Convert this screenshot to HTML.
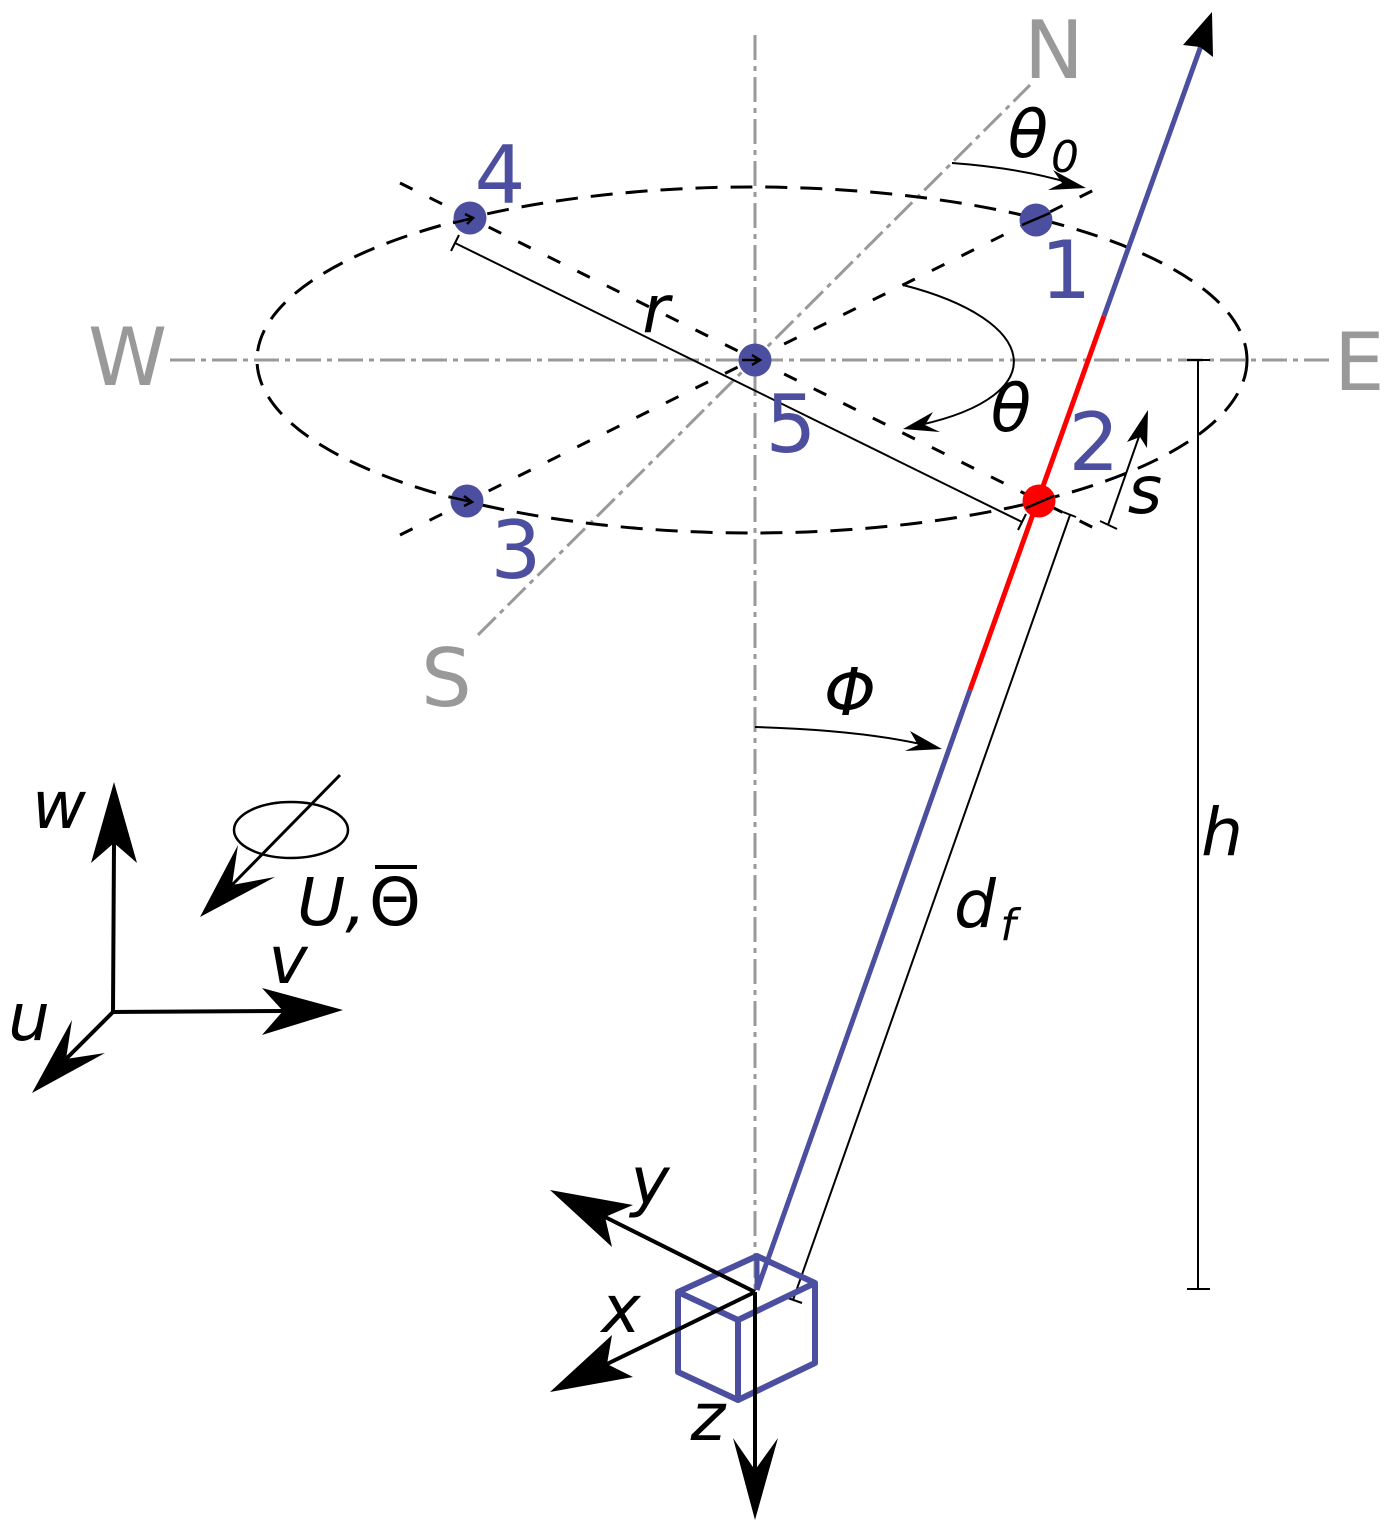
<!DOCTYPE html>
<html><head><meta charset="utf-8"><style>
html,body{margin:0;padding:0;background:#fff;}
svg{display:block;}
text{font-family:"DejaVu Sans","Liberation Sans",sans-serif;}
.it{font-style:italic;}
</style></head><body>
<svg width="1394" height="1533" viewBox="0 0 1394 1533" xmlns="http://www.w3.org/2000/svg">
<!-- gray dash-dot reference lines -->
<g stroke="#999" stroke-width="3" fill="none" stroke-dasharray="25 6 5 6">
<line x1="170" y1="360" x2="1330" y2="360"/>
<line x1="755" y1="35" x2="755" y2="1290"/>
<line x1="478" y1="635" x2="1030" y2="85"/>
</g>
<!-- dashed ellipse -->
<ellipse cx="752" cy="360" rx="495" ry="173" fill="none" stroke="#000" stroke-width="3" stroke-dasharray="22 13"/>
<!-- radial short dashes -->
<g stroke="#000" stroke-width="3" fill="none" stroke-dasharray="14 19">
<line x1="400" y1="183" x2="1100" y2="531"/>
<line x1="400" y1="535" x2="1100" y2="187"/>
</g>
<!-- r dimension -->
<g stroke="#000" stroke-width="2" fill="none">
<line x1="455" y1="243" x2="1022" y2="522"/>
<line x1="459" y1="235" x2="451" y2="251"/>
<line x1="1026" y1="514" x2="1018" y2="530"/>
<!-- s -->
<line x1="1108" y1="525" x2="1142" y2="428"/>
<line x1="1100" y1="521" x2="1117" y2="529"/>
<!-- d_f -->
<line x1="1070" y1="515" x2="793" y2="1300"/>
<line x1="1063" y1="512" x2="1076" y2="517"/>
<line x1="785" y1="1297" x2="802" y2="1303"/>
<!-- h -->
<line x1="1198" y1="360" x2="1198" y2="1289"/>
<line x1="1187" y1="360" x2="1210" y2="360"/>
<line x1="1187" y1="1289" x2="1210" y2="1289"/>
<!-- theta0 arc -->
<path d="M952,163 Q1020,168 1070,183"/>
<!-- theta arc -->
<path d="M903,285 C1040,320 1055,395 920,425"/>
<!-- phi arc -->
<path d="M755,727 Q860,730 925,745"/>
</g>
<g fill="#000">
<polygon points="1086,188 1053,170 1062,183 1048,190"/>
<polygon points="903,429 933,412 925,425 940,432"/>
<polygon points="942,749 910,731 918,745 905,751"/>
<polygon points="1148,410 1127,442 1140,437 1147,448"/>
</g>
<!-- blue/red main line -->
<line x1="757" y1="1290" x2="970" y2="690" stroke="#4c4f9f" stroke-width="5"/>
<line x1="970" y1="690" x2="1104" y2="316" stroke="#ff0000" stroke-width="5"/>
<line x1="1104" y1="316" x2="1202" y2="43" stroke="#4c4f9f" stroke-width="5"/>
<polygon points="1212,12 1183,45 1200,47 1213,57" fill="#000"/>
<!-- dots -->
<g fill="#4c4f9f">
<circle cx="470" cy="218" r="16.5"/>
<circle cx="1036" cy="220" r="16.5"/>
<circle cx="467" cy="501" r="16.5"/>
<circle cx="755" cy="360" r="16.5"/>
</g>
<circle cx="1039" cy="501" r="16.5" fill="#ff0000"/>
<!-- small markers inside dots -->
<g stroke="#000" stroke-width="2.5" fill="none">
<path d="M453,223 L473,218 M465,214 L473,218 L467,224"/>
<path d="M450,497 L472,502 M464,496 L472,502 L464,506"/>
<path d="M742,360 L760,360 M752,355 L760,360 L752,365"/>
<path d="M1022,225 L1050,213"/>
<path d="M1026,508 L1054,496"/>
</g>
<!-- cube -->
<g stroke="#4c4f9f" stroke-width="6" fill="none" stroke-linejoin="round">
<path d="M757,1256 L678,1292 L738,1320 L815,1283 Z"/>
<path d="M678,1292 L678,1372 L738,1400 L815,1363 L815,1283"/>
<path d="M738,1320 L738,1400"/>
</g>
<line x1="757" y1="1256" x2="757" y2="1290" stroke="#4c4f9f" stroke-width="5"/>
<!-- xyz axes -->
<g stroke="#000" stroke-width="4" fill="none">
<line x1="755" y1="1292" x2="605" y2="1217"/>
<line x1="755" y1="1292" x2="607" y2="1364"/>
<line x1="755" y1="1292" x2="755" y2="1470"/>
</g>
<g fill="#000">
<polygon points="550,1190 633,1205 605,1217 612,1247"/>
<polygon points="550,1392 612,1335 607,1364 633,1377"/>
<polygon points="755,1520 733,1438 755,1470 778,1438"/>
</g>
<!-- uvw axes -->
<g stroke="#000" stroke-width="4" fill="none">
<line x1="113" y1="1012" x2="114" y2="843"/>
<line x1="113" y1="1012" x2="283" y2="1011"/>
<line x1="113" y1="1012" x2="66" y2="1059"/>
<line x1="340" y1="775" x2="232" y2="885" stroke-width="3"/>
</g>
<ellipse cx="291" cy="830" rx="57" ry="28" fill="none" stroke="#000" stroke-width="2.5"/>
<g fill="#000">
<polygon points="114,782 91,863 114,843 137,863"/>
<polygon points="343,1010 262,988 283,1011 262,1035"/>
<polygon points="32,1093 72,1020 66,1059 105,1053"/>
<polygon points="200,917 238,845 232,885 275,877"/>
</g>
<!-- gray compass labels -->
<g fill="#999" font-size="80">
<text x="1024" y="78">N</text>
<text x="88" y="385">W</text>
<text x="1334" y="390">E</text>
<text x="421" y="706">S</text>
</g>
<!-- blue numbers -->
<g fill="#4c4f9f" font-size="80" text-anchor="middle">
<text x="500" y="203">4</text>
<text x="1066" y="298">1</text>
<text x="791" y="452">5</text>
<text x="1094" y="470">2</text>
<text x="516" y="578">3</text>
</g>
<!-- italic labels -->
<g fill="#000" font-size="66" text-anchor="middle" class="it">
<text x="1028" y="157">θ</text>
<text x="1065" y="172" font-size="44">0</text>
<text x="1011" y="431">θ</text>
<text x="656" y="332">r</text>
<text x="1145" y="513">s</text>
<text x="850" y="715">Φ</text>
<text x="975" y="927">d</text>
<text x="1008" y="940" font-size="44">f</text>
<text x="1222" y="855">h</text>
<text x="650" y="1204">y</text>
<text x="621" y="1332">x</text>
<text x="708" y="1440">z</text>
<text x="59" y="828">w</text>
<text x="29" y="1040">u</text>
<text x="288" y="983">v</text>
</g>
<text x="297" y="925" font-size="66" class="it" fill="#000">U,</text>
<text x="395" y="925" font-size="66" text-anchor="middle" fill="#000">Θ</text>
<rect x="375" y="865" width="42" height="4" fill="#000"/>
</svg>
</body></html>
